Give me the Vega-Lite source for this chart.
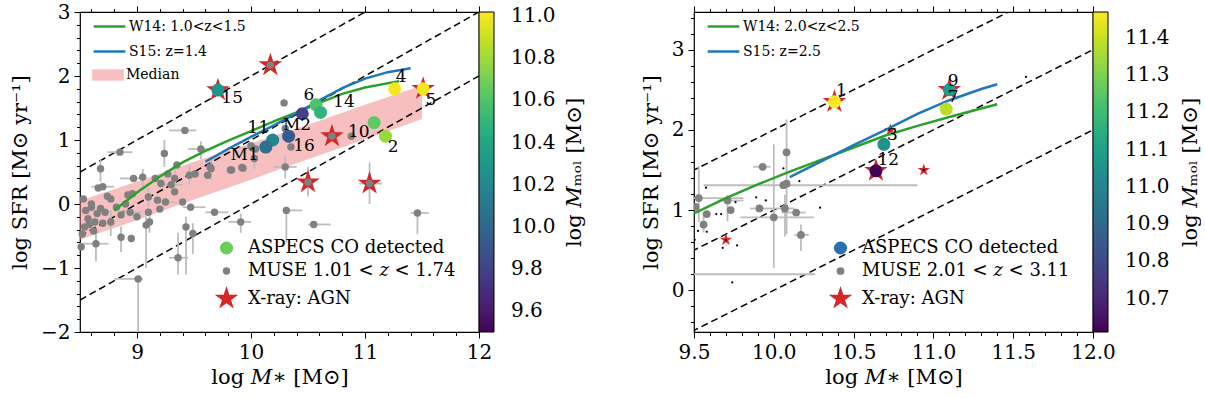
{
  "$schema": "https://vega.github.io/schema/vega-lite/v6.json",
  "background": "white",
  "padding": {"left": 8, "top": 1, "right": 0, "bottom": 2},
  "spacing": 54,
  "config": {
    "font": "DejaVu Serif",
    "view": {"stroke": "black", "strokeWidth": 1.2},
    "axis": {
      "grid": false, "domain": false, "tickColor": "black", "tickSize": 6, "tickWidth": 1,
      "labelFont": "DejaVu Serif", "labelFontSize": 20, "labelColor": "black", "labelFlush": false, "labelOverlap": false,
      "titleFont": "DejaVu Serif", "titleFontSize": 21, "titleFontWeight": "normal", "titleColor": "black", "labelPadding": 4
    },
    "legend": {"labelFont": "DejaVu Serif", "titleFont": "DejaVu Serif", "labelColor": "black", "titleColor": "black", "titleFontWeight": "normal", "labelLimit": 400}
  },
  "datasets": {
    "sslines": [
      {"line": "-8", "m": 8.5, "sfr": 0.5}, {"line": "-8", "m": 12, "sfr": 4},
      {"line": "-9", "m": 8.5, "sfr": -0.5}, {"line": "-9", "m": 12, "sfr": 3},
      {"line": "-10", "m": 8.5, "sfr": -1.5}, {"line": "-10", "m": 12, "sfr": 2}
    ],
    "bandL": [
      {"m": 8.5, "lo": -0.56, "hi": 0.05}, {"m": 9.0, "lo": -0.25, "hi": 0.35}, {"m": 9.5, "lo": 0.07, "hi": 0.66},
      {"m": 10.0, "lo": 0.38, "hi": 0.95}, {"m": 10.5, "lo": 0.7, "hi": 1.24}, {"m": 11.0, "lo": 1.01, "hi": 1.55},
      {"m": 11.5, "lo": 1.33, "hi": 1.85}
    ],
    "modelsL": [
      {"model": "W14: 1.0<z<1.5", "m": 8.8, "sfr": -0.1}, {"model": "W14: 1.0<z<1.5", "m": 9.0, "sfr": 0.18},
      {"model": "W14: 1.0<z<1.5", "m": 9.2, "sfr": 0.43}, {"model": "W14: 1.0<z<1.5", "m": 9.4, "sfr": 0.65},
      {"model": "W14: 1.0<z<1.5", "m": 9.6, "sfr": 0.83}, {"model": "W14: 1.0<z<1.5", "m": 9.8, "sfr": 0.99},
      {"model": "W14: 1.0<z<1.5", "m": 10.0, "sfr": 1.14}, {"model": "W14: 1.0<z<1.5", "m": 10.2, "sfr": 1.29},
      {"model": "W14: 1.0<z<1.5", "m": 10.4, "sfr": 1.43}, {"model": "W14: 1.0<z<1.5", "m": 10.6, "sfr": 1.58},
      {"model": "W14: 1.0<z<1.5", "m": 10.8, "sfr": 1.72}, {"model": "W14: 1.0<z<1.5", "m": 11.0, "sfr": 1.82},
      {"model": "W14: 1.0<z<1.5", "m": 11.3, "sfr": 1.92},
      {"model": "S15: z=1.4", "m": 9.6, "sfr": 0.66}, {"model": "S15: z=1.4", "m": 9.8, "sfr": 0.86},
      {"model": "S15: z=1.4", "m": 10.0, "sfr": 1.05}, {"model": "S15: z=1.4", "m": 10.2, "sfr": 1.23},
      {"model": "S15: z=1.4", "m": 10.4, "sfr": 1.42}, {"model": "S15: z=1.4", "m": 10.6, "sfr": 1.62},
      {"model": "S15: z=1.4", "m": 10.8, "sfr": 1.81}, {"model": "S15: z=1.4", "m": 11.0, "sfr": 1.96},
      {"model": "S15: z=1.4", "m": 11.2, "sfr": 2.06}, {"model": "S15: z=1.4", "m": 11.4, "sfr": 2.12}
    ],
    "museL": [
      {"m": 10.29, "sfr": 1.58},
      {"m": 9.42, "sfr": 1.15, "m_lo": 9.28, "m_hi": 9.52},
      {"m": 8.85, "sfr": 0.81, "m_lo": 8.74, "m_hi": 8.96},
      {"m": 9.24, "sfr": 0.79, "sfr_lo": 0.58, "sfr_hi": 1.0},
      {"m": 9.56, "sfr": 0.86, "m_lo": 9.45, "m_hi": 9.62, "sfr_lo": 0.7, "sfr_hi": 0.98},
      {"m": 8.68, "sfr": 0.55, "sfr_lo": 0.35, "sfr_hi": 0.7},
      {"m": 9.35, "sfr": 0.61},
      {"m": 10.01, "sfr": 0.88, "m_lo": 9.9, "m_hi": 10.08},
      {"m": 10.03, "sfr": 0.71, "sfr_lo": 0.55, "sfr_hi": 0.85},
      {"m": 10.35, "sfr": 0.89},
      {"m": 9.92, "sfr": 0.57},
      {"m": 9.65, "sfr": 0.55, "sfr_lo": 0.38, "sfr_hi": 0.72},
      {"m": 9.62, "sfr": 0.45},
      {"m": 9.82, "sfr": 0.53},
      {"m": 8.97, "sfr": 0.4, "m_lo": 8.85, "m_hi": 9.05},
      {"m": 9.05, "sfr": 0.42, "sfr_lo": 0.25, "sfr_hi": 0.55},
      {"m": 9.16, "sfr": 0.4},
      {"m": 9.46, "sfr": 0.45, "sfr_lo": 0.3, "sfr_hi": 0.6},
      {"m": 9.51, "sfr": 0.47},
      {"m": 9.21, "sfr": 0.32},
      {"m": 9.3, "sfr": 0.3, "m_lo": 9.2, "m_hi": 9.4},
      {"m": 8.7, "sfr": 0.27, "m_lo": 8.6, "m_hi": 8.8},
      {"m": 8.53, "sfr": 0.08},
      {"m": 8.77, "sfr": 0.08},
      {"m": 8.96, "sfr": 0.16},
      {"m": 9.1, "sfr": 0.11, "sfr_lo": -0.05, "sfr_hi": 0.25},
      {"m": 9.27, "sfr": 0.47},
      {"m": 9.33, "sfr": 0.4, "sfr_lo": 0.25, "sfr_hi": 0.6},
      {"m": 8.92, "sfr": 0.14},
      {"m": 9.18, "sfr": 0.06},
      {"m": 9.33, "sfr": 0.19},
      {"m": 9.25, "sfr": 0.03, "m_lo": 9.15, "m_hi": 9.35},
      {"m": 9.4, "sfr": 0.03},
      {"m": 9.47, "sfr": -0.05, "m_lo": 9.4, "m_hi": 9.6},
      {"m": 8.6, "sfr": -0.05},
      {"m": 8.68, "sfr": -0.07},
      {"m": 8.72, "sfr": -0.13},
      {"m": 8.57, "sfr": -0.23},
      {"m": 8.63, "sfr": -0.28},
      {"m": 8.54, "sfr": -0.36},
      {"m": 8.77, "sfr": -0.28, "sfr_lo": -0.5, "sfr_hi": -0.1},
      {"m": 8.86, "sfr": -0.17},
      {"m": 8.94, "sfr": -0.13, "m_lo": 8.85, "m_hi": 9.05},
      {"m": 9.1, "sfr": -0.13},
      {"m": 9.11, "sfr": -0.28, "sfr_lo": -0.45, "sfr_hi": -0.1},
      {"m": 9.43, "sfr": -0.36, "sfr_lo": -1.1, "sfr_hi": -0.2},
      {"m": 8.95, "sfr": -0.54},
      {"m": 8.86, "sfr": -0.52, "sfr_lo": -0.75, "sfr_hi": -0.35},
      {"m": 9.68, "sfr": -0.13, "m_lo": 9.6, "m_hi": 9.8},
      {"m": 9.64, "sfr": 0.58},
      {"m": 8.64, "sfr": -0.62, "m_lo": 8.5, "m_hi": 8.75, "sfr_lo": -0.9, "sfr_hi": -0.45},
      {"m": 9.08, "sfr": -0.33, "sfr_lo": -1.0, "sfr_hi": -0.2},
      {"m": 9.01, "sfr": -1.17, "m_lo": 8.8, "m_hi": 9.05, "sfr_lo": -2.2, "sfr_hi": -1.17},
      {"m": 9.36, "sfr": -0.84, "m_lo": 9.28, "m_hi": 9.45, "sfr_lo": -1.1, "sfr_hi": -0.45},
      {"m": 9.49, "sfr": -0.46, "sfr_lo": -0.78, "sfr_hi": -0.3},
      {"m": 8.51, "sfr": -0.67},
      {"m": 10.31, "sfr": -0.1, "m_lo": 10.31, "m_hi": 10.45, "sfr_lo": -0.6, "sfr_hi": -0.1},
      {"m": 9.91, "sfr": -0.28, "m_lo": 9.8, "m_hi": 10.0, "sfr_lo": -0.45, "sfr_hi": -0.15},
      {"m": 10.55, "sfr": -0.32, "m_lo": 10.5, "m_hi": 10.7},
      {"m": 11.46, "sfr": -0.14, "m_lo": 11.4, "m_hi": 11.56, "sfr_lo": -0.47, "sfr_hi": -0.14},
      {"m": 10.3, "sfr": 1.18},
      {"m": 10.3, "sfr": 0.58, "m_lo": 10.2, "m_hi": 10.4, "sfr_lo": 0.4, "sfr_hi": 0.75},
      {"m": 10.0, "sfr": 0.91},
      {"m": 10.04, "sfr": 0.86},
      {"m": 10.88, "sfr": 1.06},
      {"m": 9.83, "sfr": 0.53},
      {"m": 9.93, "sfr": 0.56},
      {"m": 10.17, "sfr": 2.17},
      {"m": 10.71, "sfr": 1.06},
      {"m": 10.5, "sfr": 0.34, "sfr_lo": 0.12, "sfr_hi": 0.58},
      {"m": 11.04, "sfr": 0.32, "m_lo": 10.95, "m_hi": 11.15, "sfr_lo": 0.0, "sfr_hi": 0.65},
      {"m": 8.55, "sfr": -0.1},
      {"m": 8.6, "sfr": 0.0},
      {"m": 8.65, "sfr": -0.15},
      {"m": 8.58, "sfr": -0.32},
      {"m": 8.62, "sfr": -0.42},
      {"m": 8.7, "sfr": -0.3},
      {"m": 8.52, "sfr": -0.47},
      {"m": 8.66, "sfr": 0.25},
      {"m": 8.74, "sfr": 0.12},
      {"m": 8.82, "sfr": -0.05},
      {"m": 9.0, "sfr": -0.2},
      {"m": 9.2, "sfr": -0.08},
      {"m": 8.9, "sfr": 0.0}
    ],
    "agnL": [
      {"m": 9.71, "sfr": 1.78}, {"m": 10.17, "sfr": 2.17}, {"m": 11.51, "sfr": 1.8},
      {"m": 10.71, "sfr": 1.06}, {"m": 10.5, "sfr": 0.34}, {"m": 11.04, "sfr": 0.32}
    ],
    "aspecsL": [
      {"id": "15", "m": 9.71, "sfr": 1.78, "mmol": 10.29},
      {"id": "11", "m": 10.19, "sfr": 1.0, "mmol": 10.18},
      {"id": "M1", "m": 10.13, "sfr": 0.89, "mmol": 10.06},
      {"id": "16", "m": 10.33, "sfr": 1.06, "mmol": 9.93},
      {"id": "M2", "m": 10.45, "sfr": 1.41, "mmol": 9.8},
      {"id": "6", "m": 10.57, "sfr": 1.55, "mmol": 10.6},
      {"id": "14", "m": 10.61, "sfr": 1.43, "mmol": 10.49},
      {"id": "4", "m": 11.26, "sfr": 1.8, "mmol": 11.0},
      {"id": "5", "m": 11.51, "sfr": 1.8, "mmol": 11.0},
      {"id": "10", "m": 11.08, "sfr": 1.27, "mmol": 10.64},
      {"id": "2", "m": 11.18, "sfr": 1.06, "mmol": 10.79}
    ],
    "labelsL": [
      {"id": "15", "m": 9.74, "sfr": 1.65}, {"id": "11", "m": 9.97, "sfr": 1.19},
      {"id": "M1", "m": 9.82, "sfr": 0.76}, {"id": "M2", "m": 10.28, "sfr": 1.23},
      {"id": "16", "m": 10.37, "sfr": 0.91}, {"id": "6", "m": 10.46, "sfr": 1.7},
      {"id": "14", "m": 10.72, "sfr": 1.59}, {"id": "4", "m": 11.27, "sfr": 1.98},
      {"id": "5", "m": 11.53, "sfr": 1.62}, {"id": "10", "m": 10.85, "sfr": 1.13},
      {"id": "2", "m": 11.2, "sfr": 0.89}
    ],
    "modelsR": [
      {"model": "W14: 2.0<z<2.5", "m": 9.5, "sfr": 0.96}, {"model": "W14: 2.0<z<2.5", "m": 9.7, "sfr": 1.15},
      {"model": "W14: 2.0<z<2.5", "m": 9.9, "sfr": 1.32}, {"model": "W14: 2.0<z<2.5", "m": 10.1, "sfr": 1.48},
      {"model": "W14: 2.0<z<2.5", "m": 10.3, "sfr": 1.63}, {"model": "W14: 2.0<z<2.5", "m": 10.5, "sfr": 1.78},
      {"model": "W14: 2.0<z<2.5", "m": 10.7, "sfr": 1.93}, {"model": "W14: 2.0<z<2.5", "m": 10.9, "sfr": 2.05},
      {"model": "W14: 2.0<z<2.5", "m": 11.1, "sfr": 2.16}, {"model": "W14: 2.0<z<2.5", "m": 11.4, "sfr": 2.32},
      {"model": "S15: z=2.5", "m": 10.1, "sfr": 1.41}, {"model": "S15: z=2.5", "m": 10.3, "sfr": 1.61},
      {"model": "S15: z=2.5", "m": 10.5, "sfr": 1.81}, {"model": "S15: z=2.5", "m": 10.7, "sfr": 2.0},
      {"model": "S15: z=2.5", "m": 10.9, "sfr": 2.2}, {"model": "S15: z=2.5", "m": 11.1, "sfr": 2.37},
      {"model": "S15: z=2.5", "m": 11.3, "sfr": 2.51}, {"model": "S15: z=2.5", "m": 11.4, "sfr": 2.57}
    ],
    "museR": [
      {"m": 9.93, "sfr": 1.54, "m_lo": 9.87, "m_hi": 9.98},
      {"m": 10.08, "sfr": 1.72, "sfr_lo": 0.7, "sfr_hi": 2.13},
      {"m": 10.06, "sfr": 1.31, "m_lo": 9.56, "m_hi": 10.9},
      {"m": 10.08, "sfr": 1.33},
      {"m": 9.53, "sfr": 1.15, "m_lo": 9.45, "m_hi": 9.81, "sfr_lo": 0.85, "sfr_hi": 1.55},
      {"m": 9.51, "sfr": 1.04},
      {"m": 9.58, "sfr": 0.95},
      {"m": 9.56, "sfr": 0.82, "sfr_lo": 0.72, "sfr_hi": 0.98},
      {"m": 9.71, "sfr": 1.12, "m_lo": 9.65, "m_hi": 9.81, "sfr_lo": 0.86, "sfr_hi": 1.19},
      {"m": 9.73, "sfr": 1.0},
      {"m": 9.91, "sfr": 1.02, "m_lo": 9.85, "m_hi": 10.0},
      {"m": 10.0, "sfr": 0.91, "m_lo": 9.79, "m_hi": 10.25, "sfr_lo": 0.28, "sfr_hi": 1.82},
      {"m": 10.07, "sfr": 1.02, "m_lo": 10.0, "m_hi": 10.13, "sfr_lo": 0.67, "sfr_hi": 1.19},
      {"m": 10.14, "sfr": 0.97, "m_lo": 10.05, "m_hi": 10.2},
      {"m": 10.17, "sfr": 0.69, "m_lo": 10.13, "m_hi": 10.22, "sfr_lo": 0.49, "sfr_hi": 0.82},
      {"m": 9.38, "sfr": 0.2, "m_lo": 9.2, "m_hi": 10.26}
    ],
    "dotsR": [
      {"m": 9.575, "sfr": 1.28}, {"m": 9.64, "sfr": 0.95}, {"m": 9.67, "sfr": 0.95}, {"m": 9.76, "sfr": 1.1},
      {"m": 9.89, "sfr": 1.16}, {"m": 9.95, "sfr": 1.12}, {"m": 10.29, "sfr": 1.03}, {"m": 9.74, "sfr": 0.1},
      {"m": 9.77, "sfr": 0.56}, {"m": 9.68, "sfr": 0.53}, {"m": 9.525, "sfr": 0.74}, {"m": 9.505, "sfr": 0.63},
      {"m": 9.58, "sfr": 0.73}, {"m": 9.7, "sfr": 0.63}, {"m": 10.06, "sfr": 1.52}, {"m": 10.16, "sfr": 1.36},
      {"m": 11.58, "sfr": 2.66}, {"m": 10.94, "sfr": 1.5}
    ],
    "agnRbig": [{"m": 10.38, "sfr": 2.35}, {"m": 10.64, "sfr": 1.49}, {"m": 11.1, "sfr": 2.5}],
    "agnRsmall": [{"m": 10.73, "sfr": 2.0}, {"m": 10.94, "sfr": 1.5}, {"m": 9.7, "sfr": 0.63}],
    "aspecsR": [
      {"id": "1", "m": 10.38, "sfr": 2.35, "mmol": 11.47},
      {"id": "3", "m": 10.69, "sfr": 1.82, "mmol": 11.04},
      {"id": "12", "m": 10.64, "sfr": 1.49, "mmol": 10.61},
      {"id": "9", "m": 11.1, "sfr": 2.5, "mmol": 11.08},
      {"id": "7", "m": 11.08, "sfr": 2.26, "mmol": 11.38}
    ],
    "labelsR": [
      {"id": "1", "m": 10.39, "sfr": 2.49}, {"id": "3", "m": 10.71, "sfr": 1.94},
      {"id": "12", "m": 10.65, "sfr": 1.62}, {"id": "9", "m": 11.09, "sfr": 2.61},
      {"id": "7", "m": 11.09, "sfr": 2.41}
    ]
  },
  "resolve": {
    "scale": {"x": "independent", "y": "independent", "fill": "independent", "stroke": "independent", "shape": "independent", "color": "independent", "size": "independent", "opacity": "independent"},
    "legend": {"fill": "independent", "stroke": "independent", "shape": "independent", "color": "independent", "size": "independent", "opacity": "independent"}
  },
  "hconcat": [
    {
      "width": 399, "height": 320,
      "resolve": {"axis": {"x": "independent", "y": "independent"}},
      "layer": [
        {
          "data": {"name": "bandL"},
          "mark": {"type": "area", "fill": "#f08080", "strokeWidth": 0, "clip": true},
          "encoding": {
            "x": {"field": "m", "type": "quantitative", "scale": {"domain": [8.5, 12], "nice": false, "zero": false},
                  "axis": {"orient": "bottom", "values": [9, 10, 11, 12], "title": "log 𝑀∗ [M⊙]", "titlePadding": 4}},
            "y": {"field": "hi", "type": "quantitative", "scale": {"domain": [-2, 3], "nice": false, "zero": false},
                  "axis": {"orient": "left", "values": [-2, -1, 0, 1, 2, 3], "title": "log SFR [M⊙ yr⁻¹]", "titlePadding": 10}},
            "y2": {"field": "lo"},
            "opacity": {
              "datum": "Median", "type": "nominal", "scale": {"type": "ordinal", "domain": ["Median"], "range": [0.5]},
              "legend": {
                "orient": "none", "legendX": 12, "legendY": 47, "title": null, "padding": 0,
                "labelFontSize": 14, "labelOffset": 2, "symbolSize": 1000,
                "symbolType": "M-1,-0.36H1V0.36H-1Z", "symbolFillColor": "#f08080", "symbolStrokeWidth": 0
              }
            }
          }
        },
        {
          "data": {"name": "sslines"},
          "mark": {"type": "line", "color": "black", "strokeDash": [7, 4], "strokeWidth": 1.5, "clip": true},
          "encoding": {
            "x": {"field": "m", "type": "quantitative",
                  "axis": {"orient": "bottom", "values": [8.6, 8.8, 9.2, 9.4, 9.6, 9.8, 10.2, 10.4, 10.6, 10.8, 11.2, 11.4, 11.6, 11.8], "labels": false, "title": null, "tickSize": 3.5}},
            "y": {"field": "sfr", "type": "quantitative",
                  "axis": {"orient": "left", "values": [-1.8, -1.6, -1.4, -1.2, -0.8, -0.6, -0.4, -0.2, 0.2, 0.4, 0.6, 0.8, 1.2, 1.4, 1.6, 1.8, 2.2, 2.4, 2.6, 2.8], "labels": false, "title": null, "tickSize": 3.5}},
            "detail": {"field": "line"}
          }
        },
        {
          "data": {"name": "museL"},
          "transform": [{"filter": "isValid(datum.m_lo)"}],
          "mark": {"type": "rule", "color": "#bdbdbd", "strokeWidth": 1.8, "clip": true},
          "encoding": {
            "x": {"field": "m_lo", "type": "quantitative", "axis": {"orient": "top", "values": [9, 10, 11, 12], "labels": false, "title": null}},
            "x2": {"field": "m_hi"},
            "y": {"field": "sfr", "type": "quantitative", "axis": null}
          }
        },
        {
          "data": {"name": "museL"},
          "transform": [{"filter": "isValid(datum.sfr_lo)"}],
          "mark": {"type": "rule", "color": "#bdbdbd", "strokeWidth": 1.8, "clip": true},
          "encoding": {
            "x": {"field": "m", "type": "quantitative",
                  "axis": {"orient": "top", "values": [8.6, 8.8, 9.2, 9.4, 9.6, 9.8, 10.2, 10.4, 10.6, 10.8, 11.2, 11.4, 11.6, 11.8], "labels": false, "title": null, "tickSize": 3.5}},
            "y": {"field": "sfr_lo", "type": "quantitative", "axis": null},
            "y2": {"field": "sfr_hi"}
          }
        },
        {
          "data": {"name": "agnL"},
          "mark": {"type": "point", "filled": true, "opacity": 1},
          "encoding": {
            "x": {"field": "m", "type": "quantitative", "axis": null},
            "y": {"field": "sfr", "type": "quantitative", "axis": null},
            "color": {
              "datum": "X-ray: AGN", "type": "nominal",
              "scale": {"domain": ["ASPECS CO detected", "MUSE 1.01 < 𝑧 < 1.74", "X-ray: AGN"], "range": ["#6ccd5a", "#808080", "#d62728"]},
              "legend": {"orient": "bottom-right", "title": null, "offset": 23, "padding": 0, "labelFontSize": 18, "rowPadding": 5, "labelOffset": 8}
            },
            "size": {
              "datum": "X-ray: AGN", "type": "nominal",
              "scale": {"type": "ordinal", "domain": ["ASPECS CO detected", "MUSE 1.01 < 𝑧 < 1.74", "X-ray: AGN"], "range": [170, 55, 620]},
              "legend": {"orient": "bottom-right", "title": null, "offset": 23, "padding": 0, "labelFontSize": 18, "rowPadding": 5, "labelOffset": 8}
            },
            "shape": {
              "datum": "X-ray: AGN", "type": "nominal",
              "scale": {"domain": ["ASPECS CO detected", "MUSE 1.01 < 𝑧 < 1.74", "X-ray: AGN"],
                        "range": ["circle", "circle", "M0,-1L0.2245,-0.309L0.951,-0.309L0.363,0.118L0.588,0.809L0,0.382L-0.588,0.809L-0.363,0.118L-0.951,-0.309L-0.2245,-0.309Z"]},
              "legend": {"orient": "bottom-right", "title": null, "offset": 23, "padding": 0, "labelFontSize": 18, "rowPadding": 5, "labelOffset": 8}
            }
          }
        },
        {
          "data": {"name": "museL"},
          "mark": {"type": "point", "filled": true, "opacity": 1},
          "encoding": {
            "x": {"field": "m", "type": "quantitative", "axis": null},
            "y": {"field": "sfr", "type": "quantitative", "axis": null},
            "color": {"datum": "MUSE 1.01 < 𝑧 < 1.74", "type": "nominal"},
            "size": {"datum": "MUSE 1.01 < 𝑧 < 1.74", "type": "nominal",
                     "scale": {"type": "ordinal", "domain": ["ASPECS CO detected", "MUSE 1.01 < 𝑧 < 1.74", "X-ray: AGN"], "range": [170, 55, 620]}},
            "shape": {"datum": "MUSE 1.01 < 𝑧 < 1.74", "type": "nominal"}
          }
        },
        {
          "data": {"name": "modelsL"},
          "mark": {"type": "line", "strokeWidth": 2.5, "clip": true},
          "encoding": {
            "x": {"field": "m", "type": "quantitative", "axis": null},
            "y": {"field": "sfr", "type": "quantitative", "axis": null},
            "stroke": {
              "field": "model", "type": "nominal",
              "scale": {"domain": ["W14: 1.0<z<1.5", "S15: z=1.4"], "range": ["#2ca02c", "#1f77b4"]},
              "legend": {
                "orient": "none", "legendX": 12, "legendY": -3, "title": null, "padding": 0,
                "labelFontSize": 14, "labelOffset": 2, "symbolSize": 1000, "symbolType": "stroke",
                "symbolStrokeWidth": 2.5, "rowPadding": -11
              }
            }
          }
        },
        {
          "data": {"name": "aspecsL"},
          "mark": {"type": "point", "filled": true, "opacity": 1, "strokeWidth": 0},
          "encoding": {
            "x": {"field": "m", "type": "quantitative", "axis": null},
            "y": {"field": "sfr", "type": "quantitative", "axis": null},
            "shape": {"datum": "ASPECS CO detected", "type": "nominal"},
            "size": {"datum": "ASPECS CO detected", "type": "nominal",
                     "scale": {"type": "ordinal", "domain": ["ASPECS CO detected", "MUSE 1.01 < 𝑧 < 1.74", "X-ray: AGN"], "range": [170, 55, 620]}},
            "fill": {
              "field": "mmol", "type": "quantitative",
              "scale": {"scheme": "viridis", "domain": [9.5, 11.02], "nice": false, "zero": false},
              "legend": {
                "type": "gradient", "orient": "none", "legendX": 399, "legendY": 0, "padding": 0, "direction": "vertical",
                "gradientLength": 320, "gradientThickness": 15, "gradientStrokeColor": "black", "gradientStrokeWidth": 1,
                "values": [9.6, 9.8, 10.0, 10.2, 10.4, 10.6, 10.8, 11.0], "format": ".1f",
                "labelFontSize": 20, "labelOffset": 17, "labelOverlap": false, "title": null
              }
            }
          }
        },
        {
          "data": {"name": "labelsL"},
          "mark": {"type": "text", "align": "left", "baseline": "middle", "fontSize": 17, "font": "DejaVu Serif", "color": "black"},
          "encoding": {
            "x": {"field": "m", "type": "quantitative", "axis": null},
            "y": {"field": "sfr", "type": "quantitative",
                  "axis": {"orient": "right", "labels": false, "ticks": false, "domain": false, "title": "log 𝑀ₘₒₗ [M⊙]",
                           "titleAngle": 270, "titleBaseline": "middle", "titlePadding": 95}},
            "text": {"field": "id"}
          }
        }
      ]
    },
    {
      "width": 399, "height": 320,
      "resolve": {"axis": {"x": "independent", "y": "independent"}},
      "layer": [
        {
          "data": {"name": "sslines"},
          "mark": {"type": "line", "color": "black", "strokeDash": [7, 4], "strokeWidth": 1.5, "clip": true},
          "encoding": {
            "x": {"field": "m", "type": "quantitative", "scale": {"domain": [9.5, 12], "nice": false, "zero": false},
                  "axis": {"orient": "bottom", "values": [9.5, 10, 10.5, 11, 11.5, 12], "format": ".1f", "title": "log 𝑀∗ [M⊙]", "titlePadding": 4}},
            "y": {"field": "sfr", "type": "quantitative", "scale": {"domain": [-0.52, 3.47], "nice": false, "zero": false},
                  "axis": {"orient": "left", "values": [0, 1, 2, 3], "title": "log SFR [M⊙ yr⁻¹]", "titlePadding": 10}},
            "detail": {"field": "line"}
          }
        },
        {
          "data": {"name": "museR"},
          "transform": [{"filter": "isValid(datum.m_lo)"}],
          "mark": {"type": "rule", "color": "#bdbdbd", "strokeWidth": 1.8, "clip": true},
          "encoding": {
            "x": {"field": "m_lo", "type": "quantitative",
                  "axis": {"orient": "bottom", "values": [9.6, 9.7, 9.8, 9.9, 10.1, 10.2, 10.3, 10.4, 10.6, 10.7, 10.8, 10.9, 11.1, 11.2, 11.3, 11.4, 11.6, 11.7, 11.8, 11.9], "labels": false, "title": null, "tickSize": 3.5}},
            "x2": {"field": "m_hi"},
            "y": {"field": "sfr", "type": "quantitative",
                  "axis": {"orient": "left", "values": [-0.4, -0.2, 0.2, 0.4, 0.6, 0.8, 1.2, 1.4, 1.6, 1.8, 2.2, 2.4, 2.6, 2.8, 3.2, 3.4], "labels": false, "title": null, "tickSize": 3.5}}
          }
        },
        {
          "data": {"name": "museR"},
          "transform": [{"filter": "isValid(datum.sfr_lo)"}],
          "mark": {"type": "rule", "color": "#bdbdbd", "strokeWidth": 1.8, "clip": true},
          "encoding": {
            "x": {"field": "m", "type": "quantitative", "axis": {"orient": "top", "values": [9.5, 10, 10.5, 11, 11.5, 12], "labels": false, "title": null}},
            "y": {"field": "sfr_lo", "type": "quantitative", "axis": null},
            "y2": {"field": "sfr_hi"}
          }
        },
        {
          "data": {"name": "agnRbig"},
          "mark": {"type": "point", "filled": true, "opacity": 1},
          "encoding": {
            "x": {"field": "m", "type": "quantitative",
                  "axis": {"orient": "top", "values": [9.6, 9.7, 9.8, 9.9, 10.1, 10.2, 10.3, 10.4, 10.6, 10.7, 10.8, 10.9, 11.1, 11.2, 11.3, 11.4, 11.6, 11.7, 11.8, 11.9], "labels": false, "title": null, "tickSize": 3.5}},
            "y": {"field": "sfr", "type": "quantitative", "axis": null},
            "color": {
              "datum": "X-ray: AGN", "type": "nominal",
              "scale": {"domain": ["ASPECS CO detected", "MUSE 2.01 < 𝑧 < 3.11", "X-ray: AGN"], "range": ["#2a6fae", "#808080", "#d62728"]},
              "legend": {"orient": "bottom-right", "title": null, "offset": 23, "padding": 0, "labelFontSize": 18, "rowPadding": 5, "labelOffset": 8}
            },
            "size": {
              "datum": "X-ray: AGN", "type": "nominal",
              "scale": {"type": "ordinal", "domain": ["ASPECS CO detected", "MUSE 2.01 < 𝑧 < 3.11", "X-ray: AGN"], "range": [170, 60, 620]},
              "legend": {"orient": "bottom-right", "title": null, "offset": 23, "padding": 0, "labelFontSize": 18, "rowPadding": 5, "labelOffset": 8}
            },
            "shape": {
              "datum": "X-ray: AGN", "type": "nominal",
              "scale": {"domain": ["ASPECS CO detected", "MUSE 2.01 < 𝑧 < 3.11", "X-ray: AGN"],
                        "range": ["circle", "circle", "M0,-1L0.2245,-0.309L0.951,-0.309L0.363,0.118L0.588,0.809L0,0.382L-0.588,0.809L-0.363,0.118L-0.951,-0.309L-0.2245,-0.309Z"]},
              "legend": {"orient": "bottom-right", "title": null, "offset": 23, "padding": 0, "labelFontSize": 18, "rowPadding": 5, "labelOffset": 8}
            }
          }
        },
        {
          "data": {"name": "agnRsmall"},
          "mark": {"type": "point", "filled": true, "size": 170, "opacity": 1},
          "encoding": {
            "x": {"field": "m", "type": "quantitative", "axis": null},
            "y": {"field": "sfr", "type": "quantitative", "axis": null},
            "color": {"datum": "X-ray: AGN", "type": "nominal"},
            "shape": {"datum": "X-ray: AGN", "type": "nominal"}
          }
        },
        {
          "data": {"name": "museR"},
          "mark": {"type": "point", "filled": true, "opacity": 1, "clip": true},
          "encoding": {
            "x": {"field": "m", "type": "quantitative", "axis": null},
            "y": {"field": "sfr", "type": "quantitative", "axis": null},
            "color": {"datum": "MUSE 2.01 < 𝑧 < 3.11", "type": "nominal"},
            "size": {"datum": "MUSE 2.01 < 𝑧 < 3.11", "type": "nominal",
                     "scale": {"type": "ordinal", "domain": ["ASPECS CO detected", "MUSE 2.01 < 𝑧 < 3.11", "X-ray: AGN"], "range": [170, 60, 620]}},
            "shape": {"datum": "MUSE 2.01 < 𝑧 < 3.11", "type": "nominal"}
          }
        },
        {
          "data": {"name": "dotsR"},
          "mark": {"type": "circle", "color": "black", "size": 5, "opacity": 1},
          "encoding": {
            "x": {"field": "m", "type": "quantitative", "axis": null},
            "y": {"field": "sfr", "type": "quantitative", "axis": null}
          }
        },
        {
          "data": {"name": "modelsR"},
          "mark": {"type": "line", "strokeWidth": 2.5, "clip": true},
          "encoding": {
            "x": {"field": "m", "type": "quantitative", "axis": null},
            "y": {"field": "sfr", "type": "quantitative", "axis": null},
            "stroke": {
              "field": "model", "type": "nominal",
              "scale": {"domain": ["W14: 2.0<z<2.5", "S15: z=2.5"], "range": ["#2ca02c", "#1f77b4"]},
              "legend": {
                "orient": "none", "legendX": 12, "legendY": -3, "title": null, "padding": 0,
                "labelFontSize": 14, "labelOffset": 2, "symbolSize": 1000, "symbolType": "stroke",
                "symbolStrokeWidth": 2.5, "rowPadding": -11
              }
            }
          }
        },
        {
          "data": {"name": "aspecsR"},
          "mark": {"type": "point", "filled": true, "opacity": 1, "strokeWidth": 0},
          "encoding": {
            "x": {"field": "m", "type": "quantitative", "axis": null},
            "y": {"field": "sfr", "type": "quantitative", "axis": null},
            "shape": {"datum": "ASPECS CO detected", "type": "nominal"},
            "size": {"datum": "ASPECS CO detected", "type": "nominal",
                     "scale": {"type": "ordinal", "domain": ["ASPECS CO detected", "MUSE 2.01 < 𝑧 < 3.11", "X-ray: AGN"], "range": [170, 60, 620]}},
            "fill": {
              "field": "mmol", "type": "quantitative",
              "scale": {"scheme": "viridis", "domain": [10.61, 11.47], "nice": false, "zero": false},
              "legend": {
                "type": "gradient", "orient": "none", "legendX": 399, "legendY": 0, "padding": 0, "direction": "vertical",
                "gradientLength": 320, "gradientThickness": 15, "gradientStrokeColor": "black", "gradientStrokeWidth": 1,
                "values": [10.7, 10.8, 10.9, 11.0, 11.1, 11.2, 11.3, 11.4], "format": ".1f",
                "labelFontSize": 20, "labelOffset": 17, "labelOverlap": false, "title": null
              }
            }
          }
        },
        {
          "data": {"name": "labelsR"},
          "mark": {"type": "text", "align": "left", "baseline": "middle", "fontSize": 17, "font": "DejaVu Serif", "color": "black"},
          "encoding": {
            "x": {"field": "m", "type": "quantitative", "axis": null},
            "y": {"field": "sfr", "type": "quantitative",
                  "axis": {"orient": "right", "labels": false, "ticks": false, "domain": false, "title": "log 𝑀ₘₒₗ [M⊙]",
                           "titleAngle": 270, "titleBaseline": "middle", "titlePadding": 97}},
            "text": {"field": "id"}
          }
        }
      ]
    }
  ]
}
